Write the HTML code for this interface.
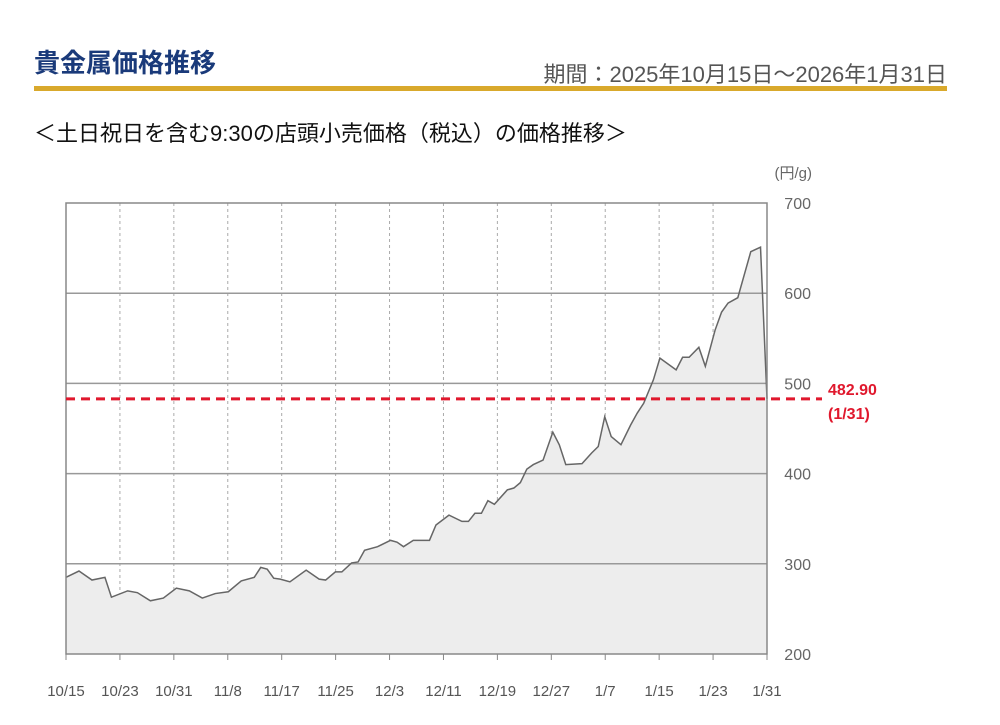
<!DOCTYPE html>
<html><head><meta charset="utf-8">
<style>
body{margin:0;background:#fff;width:1000px;height:725px;overflow:hidden;font-family:"Liberation Sans","Noto Sans CJK JP",sans-serif;}
.title{position:absolute;left:34px;top:43px;font-size:26px;font-weight:bold;color:#1a3a7a;}
.period{position:absolute;right:53px;top:57px;font-size:22px;color:#555;}
.bar{position:absolute;left:34px;top:86px;width:913px;height:5px;background:#d9a92c;}
.sub{position:absolute;left:34px;top:116px;font-size:22px;color:#111;}
svg{position:absolute;left:0;top:0;}
</style></head><body>
<div class="title">貴金属価格推移</div>
<div class="period">期間：2025年10月15日～2026年1月31日</div>
<div class="bar"></div>
<div class="sub">＜土日祝日を含む9:30の店頭小売価格（税込）の価格推移＞</div>
<svg id="chart" width="1000" height="725"></svg>
<script>
const days=[0,2,4,6,7,9.5,11,13,15,17,19,21,23,25,27,29,30,31,32,33,34.5,37,39,40,41.5,42.5,44,45,46,48,50,51,52,53.5,56,57,59,61,62,63,64,65,66,68,69,70,71,72,73.5,75,76,77,79.5,81,82,83,84,85.5,87,88,89,90.5,91.5,94,95,96,97.5,98.5,100,101,102,103.5,105.5,107,108];
const prices=[285,292,282,285,263,270,268,259,262,273,270,262,267,269,281,285,296,294,284,283,280,293,283,282,291,291,301,302,315,319,326,324,319,326,326,343,354,347,347,356,356,370,366,382,384,390,405,410,415,446,432,410,411,423,430,463,441,432,454,467,478,504,528,515,529,529,540,519,559,579,589,595,646,651,482.9];
const tickLabels=["10/15","10/23","10/31","11/8","11/17","11/25","12/3","12/11","12/19","12/27","1/7","1/15","1/23","1/31"];
const yTicks=[200,300,400,500,600,700];
const lastValue=482.90;
const lastLabel="(1/31)";
const NS="http://www.w3.org/2000/svg";
const svg=document.getElementById('chart');
const L=66,R=767,T=203,B=654;
const xs=d=>L+(R-L)*d/108;
const xt=i=>L+(R-L)*i/(tickLabels.length-1);
const ys=v=>B-(B-T)*(v-200)/500;
function mk(t,a){const e=document.createElementNS(NS,t);for(const k in a)e.setAttribute(k,a[k]);svg.appendChild(e);return e;}
tickLabels.forEach((lab,i)=>{
 if(i>0&&i<tickLabels.length-1){const g=mk('line',{x1:xt(i),x2:xt(i),y1:T,y2:B,stroke:'#aaa','stroke-dasharray':'3,3'});
 
 }
 const tk=mk('line',{x1:xt(i),x2:xt(i),y1:B,y2:B+6,stroke:'#888'});
 
 
 const t=mk('text',{x:xt(i),y:696,'text-anchor':'middle','font-size':15,fill:'#555'});t.textContent=lab;
 
 
});
const pts=days.map((d,i)=>xs(d)+','+ys(prices[i])).join(' ');
const area=mk('polygon',{points:xs(days[0])+','+B+' '+pts+' '+xs(days[days.length-1])+','+B,fill:'#ededed'});


yTicks.forEach(v=>{
 if(v>200&&v<700){const g=mk('line',{x1:L,x2:R,y1:ys(v),y2:ys(v),stroke:'#999','stroke-width':1.5});
 
 }
 const t=mk('text',{x:811,y:ys(v)+6,'text-anchor':'end','font-size':16,fill:'#666'});t.textContent=v;
 
 
});
const ln=mk('polyline',{points:pts,fill:'none',stroke:'#666','stroke-width':1.5});


const fr=mk('rect',{x:L,y:T,width:R-L,height:B-T,fill:'none',stroke:'#888','stroke-width':1.5});


const ref=mk('line',{x1:L,x2:822,y1:ys(lastValue),y2:ys(lastValue),stroke:'#e0182d','stroke-width':3,'stroke-dasharray':'9,6'});


const t1=mk('text',{x:828,y:ys(lastValue)-4,'font-size':16,'font-weight':'bold',fill:'#e0182d'});t1.textContent=lastValue.toFixed(2);


const t2=mk('text',{x:828,y:ys(lastValue)+20,'font-size':16,'font-weight':'bold',fill:'#e0182d'});t2.textContent=lastLabel;


const u=mk('text',{x:812,y:178,'text-anchor':'end','font-size':15,fill:'#666'});u.textContent='(円/g)';


</script>
</body></html>
